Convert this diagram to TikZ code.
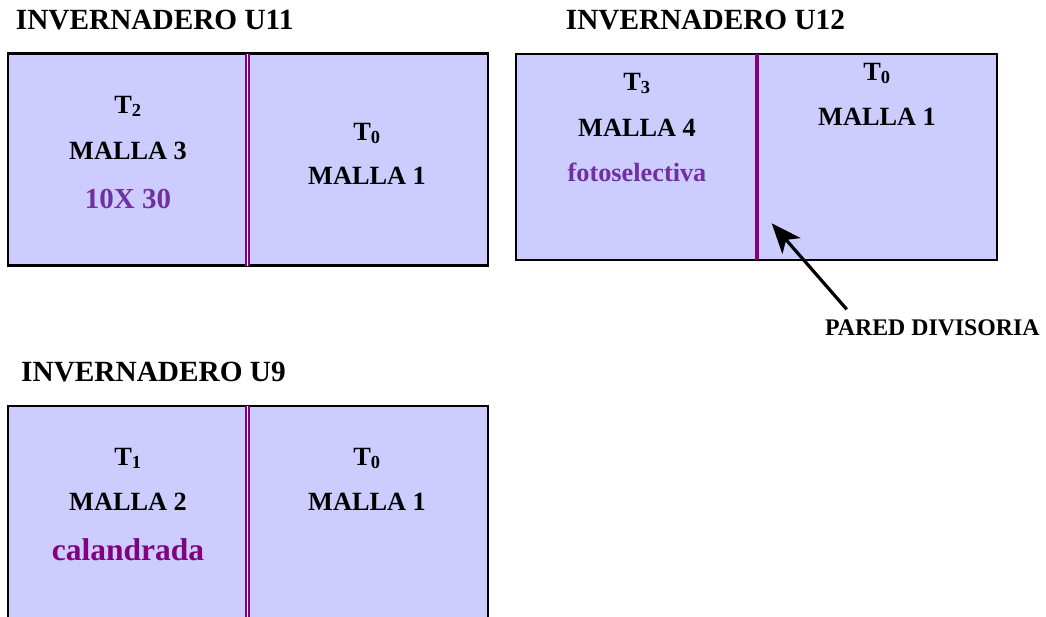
\documentclass[tikz,border=0pt]{standalone}
\usepackage{fontspec}
\setmainfont{Liberation Serif}
\usetikzlibrary{arrows.meta}
\definecolor{boxfill}{HTML}{CCCCFF}
\definecolor{wall}{HTML}{800080}
\definecolor{lilac}{HTML}{7030A0}
\begin{document}
\begin{tikzpicture}[x=1pt,y=-1pt,
  box/.style={draw=black,line width=2.2pt,fill=boxfill},
  dbl/.style={draw=wall,line width=4.6pt,postaction={draw=white,line width=1.6pt}},
  single/.style={draw=wall,line width=3.4pt},
  lbl/.style={inner sep=0pt,anchor=base,font=\bfseries\fontsize{26.3}{30}\selectfont},
  title/.style={inner sep=0pt,anchor=base west,font=\bfseries\fontsize{29.3}{32}\selectfont},
  note/.style={inner sep=0pt,anchor=base west,font=\bfseries\fontsize{23.8}{26}\selectfont}]
\useasboundingbox (0,0) rectangle (1046,616);
\clip (0,0) rectangle (1046,616);
\fill[white] (0,0) rectangle (1046,616);
% titles
\node[title] (t11) at (15.7,29.3) {INVERNADERO U11};
\node[title] (t12) at (565.7,29.3) {INVERNADERO U12};
\node[title] (t9) at (21,381.7) {INVERNADERO U9};
% U11
\draw[box] (8,53.5) rectangle (488,265.5);
\draw[dbl] (247.3,53.5) -- (247.3,265.5);
\node[lbl] (u11a) at (128,113) {T\textsubscript{2}};
\node[lbl] (u11b) at (128,159) {MALLA 3};
\node[lbl,text=lilac,font=\bfseries\fontsize{29}{32}\selectfont] (u11c) at (128,208) {10X 30};
\node[lbl] (u11d) at (367,140) {T\textsubscript{0}};
\node[lbl] (u11e) at (367,184) {MALLA 1};
% U12
\draw[box] (516,54) rectangle (997,260);
\draw[single] (757,54) -- (757,260);
\node[lbl] (u12a) at (637,90) {T\textsubscript{3}};
\node[lbl] (u12b) at (637,136.7) {MALLA 4};
\node[lbl,text=lilac] (u12c) at (637,181.7) {fotoselectiva};
\node[lbl] (u12d) at (877,80) {T\textsubscript{0}};
\node[lbl] (u12e) at (877,125) {MALLA 1};
% U9
\draw[box] (8,406) rectangle (488,630);
\draw[dbl] (247.3,406) -- (247.3,630);
\node[lbl] (u9a) at (128,465) {T\textsubscript{1}};
\node[lbl] (u9b) at (128,510.7) {MALLA 2};
\node[lbl,text=wall,font=\bfseries\fontsize{31.5}{34}\selectfont] (u9c) at (128,560.7) {calandrada};
\node[lbl] (u9d) at (367,465) {T\textsubscript{0}};
\node[lbl] (u9e) at (367,510.7) {MALLA 1};
% pared divisoria
\node[note] (pared) at (825,335.3) {PARED DIVISORIA};
\coordinate (tail) at (846.7,309.3);
\coordinate (tip) at (771.7,223.3);
\draw[line width=3.2pt,-{Stealth[length=30pt,width=24pt,inset=8pt]}] (tail) -- (tip);
\end{tikzpicture}
\end{document}
